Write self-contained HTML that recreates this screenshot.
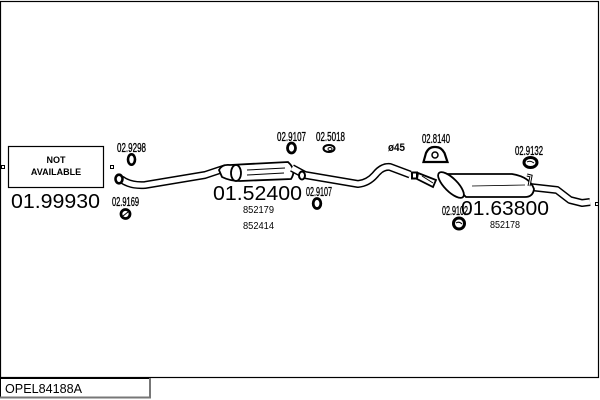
<!DOCTYPE html>
<html><head><meta charset="utf-8"><style>
html,body{margin:0;padding:0;background:#fff;}
svg{display:block;}
text{font-family:"Liberation Sans",Arial,sans-serif;fill:#000;}
</style></head><body>
<svg width="600" height="400" viewBox="0 0 600 400" xmlns="http://www.w3.org/2000/svg">
<!-- frame -->
<rect x="0.5" y="1.5" width="598" height="376" fill="none" stroke="#000" stroke-width="1.2"/>
<!-- label box -->
<rect x="0.5" y="378.5" width="149" height="19" fill="#fff" stroke="#000" stroke-width="1"/>
<line x1="0" y1="397.5" x2="151" y2="397.5" stroke="#777" stroke-width="2"/>
<line x1="150" y1="378" x2="150" y2="398" stroke="#777" stroke-width="2"/>
<text x="5" y="393" font-size="12.5" textLength="77" lengthAdjust="spacingAndGlyphs">OPEL84188A</text>

<!-- NOT AVAILABLE -->
<rect x="8.5" y="146.5" width="95" height="41" fill="none" stroke="#000" stroke-width="1.2"/>
<text x="56" y="163" font-size="9" font-weight="bold" text-anchor="middle">NOT</text>
<text x="56" y="175" font-size="9" font-weight="bold" text-anchor="middle">AVAILABLE</text>
<rect x="1.5" y="165.5" width="3" height="3" fill="none" stroke="#000" stroke-width="1"/>
<rect x="110.5" y="165.5" width="3" height="3" fill="none" stroke="#000" stroke-width="1"/>
<rect x="595.5" y="202.5" width="3" height="3" fill="none" stroke="#000" stroke-width="1"/>

<text x="11" y="208" font-size="20" textLength="89" lengthAdjust="spacingAndGlyphs">01.99930</text>
<text x="213" y="200" font-size="20" textLength="89" lengthAdjust="spacingAndGlyphs">01.52400</text>
<text x="461" y="215" font-size="20" textLength="88" lengthAdjust="spacingAndGlyphs">01.63800</text>

<text x="243" y="213" font-size="10.5" textLength="31" lengthAdjust="spacingAndGlyphs">852179</text>
<text x="243" y="229" font-size="10.5" textLength="31" lengthAdjust="spacingAndGlyphs">852414</text>
<text x="490" y="228" font-size="10.5" textLength="30" lengthAdjust="spacingAndGlyphs">852178</text>

<!-- part labels -->
<g font-size="13" stroke="#000" stroke-width="0.35">
<text x="117" y="152" textLength="29" lengthAdjust="spacingAndGlyphs">02.9298</text>
<text x="112" y="206" textLength="27" lengthAdjust="spacingAndGlyphs">02.9169</text>
<text x="277" y="141" textLength="29" lengthAdjust="spacingAndGlyphs">02.9107</text>
<text x="316" y="141" textLength="29" lengthAdjust="spacingAndGlyphs">02.5018</text>
<text x="306" y="196" textLength="26" lengthAdjust="spacingAndGlyphs">02.9107</text>
<text x="422" y="143" textLength="28" lengthAdjust="spacingAndGlyphs">02.8140</text>
<text x="515" y="155" textLength="28" lengthAdjust="spacingAndGlyphs">02.9132</text>
<text x="442" y="215" textLength="26" lengthAdjust="spacingAndGlyphs">02.9102</text>
</g>
<text x="388" y="151" font-size="11" font-weight="bold" textLength="17" lengthAdjust="spacingAndGlyphs">ø45</text>

<!-- small part icons -->
<ellipse cx="131.5" cy="159.5" rx="3.5" ry="5.2" fill="#fff" stroke="#000" stroke-width="2.6"/>
<circle cx="125.5" cy="214" r="4.5" fill="#fff" stroke="#000" stroke-width="2.8"/>
<line x1="123" y1="216" x2="128" y2="212" stroke="#000" stroke-width="1"/>
<ellipse cx="291.5" cy="148" rx="4" ry="5" fill="#fff" stroke="#000" stroke-width="2.8"/>
<ellipse cx="329" cy="148.5" rx="5.5" ry="3.5" fill="#fff" stroke="#000" stroke-width="2"/>
<ellipse cx="330" cy="149" rx="2" ry="1.5" fill="none" stroke="#000" stroke-width="1"/>
<ellipse cx="317" cy="203.5" rx="3.8" ry="5" fill="#fff" stroke="#000" stroke-width="2.8"/>
<path d="M423.5,162 L426,153 Q429,146.5 435,147 Q441,146.5 444.5,153 L447.5,162 Z" fill="#fff" stroke="#000" stroke-width="2.2"/>
<circle cx="435" cy="155" r="3" fill="#fff" stroke="#000" stroke-width="1.5"/>
<ellipse cx="530.5" cy="162.5" rx="6.5" ry="5" fill="#fff" stroke="#000" stroke-width="3"/>
<path d="M527,162 Q530,160 534,163" fill="none" stroke="#000" stroke-width="1"/>
<ellipse cx="459" cy="223.5" rx="5.5" ry="5.5" fill="#fff" stroke="#000" stroke-width="3"/>
<path d="M456,223 Q459,221 462,224" fill="none" stroke="#000" stroke-width="1"/>

<!-- pipe 1 -->
<g fill="none" stroke-linecap="butt" stroke-linejoin="round">
<path d="M121,179 Q130,186 145,185 L205,175 L226,168" stroke="#000" stroke-width="8"/>
<path d="M121,179 Q130,186 145,185 L205,175 L226,168" stroke="#fff" stroke-width="5"/>
</g>
<ellipse cx="119" cy="179" rx="3.5" ry="4.3" fill="#fff" stroke="#000" stroke-width="2.6"/>

<!-- muffler 1 -->
<path d="M219,170 Q222,164 230,165 L288,162 Q297,170 291,179 L240,181 Q230,181 222,177 Z" fill="#fff" stroke="#000" stroke-width="1.8"/>
<ellipse cx="236" cy="173" rx="5" ry="8" fill="#fff" stroke="#000" stroke-width="1.8"/>
<line x1="247" y1="170" x2="285" y2="168" stroke="#000" stroke-width="1"/>
<line x1="247" y1="175" x2="284" y2="173" stroke="#000" stroke-width="1"/>

<!-- pipe 2 -->
<g fill="none" stroke-linejoin="round">
<path d="M292,168 L305,175 L358,184 Q368,183 375,175 Q382,166 390,167 L410,174.5" stroke="#000" stroke-width="8"/>
<path d="M292,168 L305,175 L358,184 Q368,183 375,175 Q382,166 390,167 L410,174.5" stroke="#fff" stroke-width="5"/>
</g>
<ellipse cx="302" cy="175.5" rx="3" ry="4" fill="#fff" stroke="#000" stroke-width="2"/>
<rect x="412" y="172.5" width="5" height="6" fill="#fff" stroke="#000" stroke-width="2"/>

<!-- adapter -->
<path d="M418,173 L436,180 L433,187 L417,179 Z" fill="#fff" stroke="#000" stroke-width="1.8"/>
<line x1="422" y1="176" x2="433" y2="183" stroke="#000" stroke-width="1"/>

<!-- tailpipe -->
<g fill="none" stroke-linejoin="round">
<path d="M530,187 L557,190 L570,200 L582,203 L590,202" stroke="#000" stroke-width="8"/>
<path d="M530,187 L557,190 L570,200 L582,203 L590,202" stroke="#fff" stroke-width="5"/>
</g>

<!-- muffler 2 -->
<path d="M443,174 L512,174 Q530,177 534,189 Q533,197 525,197 L466,197 Z" fill="#fff" stroke="#000" stroke-width="1.8"/>
<ellipse cx="451" cy="185" rx="17" ry="6.5" transform="rotate(45 451 185)" fill="#fff" stroke="#000" stroke-width="1.8"/>
<line x1="472" y1="186" x2="525" y2="185" stroke="#000" stroke-width="0.8"/>
<path d="M529,186 L531,176 L527,175" fill="none" stroke="#000" stroke-width="3"/>
<path d="M529,186 L531,176 L527,175" fill="none" stroke="#fff" stroke-width="1"/>
</svg>
</body></html>
